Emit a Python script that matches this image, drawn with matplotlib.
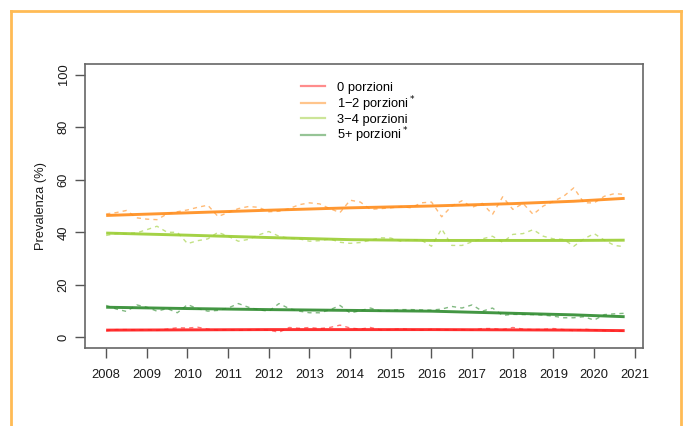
import numpy as np
import matplotlib
matplotlib.use('Agg')
import matplotlib.pyplot as plt
from matplotlib.lines import Line2D

plt.rcParams['font.family'] = ['Liberation Sans', 'DejaVu Sans']

# quarterly time points 2008 Q1 .. 2020 Q4
years = [2008 + q / 4 for q in range(52)]

# observed quarterly prevalence (dashed lines)
zero_obs = [2.5, 3.0, 3.0, 2.8, 3.0, 2.7, 3.2, 3.7, 3.6, 3.9, 3.2, 2.8, 3.0,
            2.7, 2.9, 3.0, 2.8, 2.0, 3.8, 3.5, 3.8, 3.4, 3.8, 4.7, 3.6, 3.2,
            3.8, 2.9, 3.0, 3.3, 3.0, 2.8, 3.1, 3.0, 2.9, 3.0, 2.8, 3.4, 3.4,
            3.0, 3.8, 3.2, 3.0, 3.1, 3.4, 3.0, 2.6, 3.2, 2.8, 2.6, 2.5, 2.5]
one_two_obs = [47.0, 47.5, 48.3, 45.5, 45.0, 44.8, 47.0, 47.8, 48.5, 49.5,
               50.3, 46.0, 47.5, 49.0, 49.8, 49.5, 47.8, 48.0, 49.0, 50.5,
               51.2, 50.8, 49.0, 47.5, 52.2, 51.5, 48.7, 49.0, 49.3, 49.8,
               49.3, 51.2, 51.5, 45.9, 50.0, 52.0, 49.5, 51.0, 46.8, 53.5,
               48.7, 51.0, 46.8, 50.0, 51.8, 53.7, 56.9, 51.2, 51.2, 53.7,
               54.7, 54.4]
three_four_obs = [38.8, 39.5, 39.5, 39.8, 41.0, 42.3, 40.0, 40.0, 35.7, 36.8,
                  37.5, 40.0, 38.5, 36.6, 37.3, 39.0, 40.3, 38.5, 37.7, 37.5,
                  36.6, 36.8, 37.5, 36.2, 35.8, 36.1, 37.0, 37.9, 37.8, 36.6,
                  37.2, 37.0, 34.7, 41.3, 35.0, 35.0, 36.4, 37.5, 38.5, 36.2,
                  39.2, 39.5, 41.0, 38.5, 37.5, 37.3, 34.7, 37.5, 39.5, 37.0,
                  35.0, 34.5]
five_obs = [12.2, 10.8, 9.9, 12.4, 11.5, 10.0, 11.0, 9.4, 12.5, 11.0, 10.0,
            10.3, 11.2, 12.9, 11.5, 10.5, 10.0, 12.9, 11.0, 10.0, 9.4, 9.4,
            10.5, 12.2, 9.3, 10.2, 11.2, 10.0, 10.3, 10.6, 10.6, 10.5, 10.4,
            10.8, 11.8, 11.2, 12.4, 10.0, 11.2, 8.4, 8.8, 8.7, 8.7, 8.5, 8.1,
            7.5, 7.5, 7.9, 6.6, 8.7, 9.0, 9.2]

# smoothed trend (solid lines), read at a few points
trend_years = [2008, 2010, 2012, 2014, 2016, 2018, 2019.5, 2020.75]
zero_trend = [2.8, 2.9, 3.0, 3.0, 3.0, 2.9, 2.8, 2.6]
one_two_trend = [46.4, 47.4, 48.4, 49.3, 50.0, 50.9, 51.8, 52.9]
three_four_trend = [39.7, 38.9, 38.0, 37.2, 36.9, 36.9, 36.9, 37.0]
five_trend = [11.5, 11.0, 10.6, 10.3, 10.0, 9.2, 8.6, 7.9]

labels = ['0 porzioni', '1\u22122 porzioni$^*$', '3\u22124 porzioni',
          '5+ porzioni$^*$']
colors = ['#FF1A1A', '#FF8C1A', '#9ACD32', '#2E8B2E']

obs = [zero_obs, one_two_obs, three_four_obs, five_obs]
trends = [zero_trend, one_two_trend, three_four_trend, five_trend]

fig = plt.figure(figsize=(6.84, 4.26), dpi=100)
ax = fig.add_axes([0.1243, 0.1831, 0.8157, 0.6667])

for o, t, c in zip(obs, trends, colors):
    ax.plot(years, o, color=c, lw=1.0, alpha=0.6, dashes=(3, 3))
    ax.plot(trend_years, t, color=c, lw=2.1, alpha=0.9,
            solid_capstyle='butt')

ax.set_xlim(2007.48, 2021.2)
ax.set_ylim(-4, 104)
ax.set_xticks(range(2008, 2022))
ax.set_yticks(range(0, 101, 20))
ax.tick_params(axis='y', labelrotation=90, length=7, width=1,
               color='#555555', labelsize=9.3, labelcolor='#1a1a1a', pad=4)
ax.tick_params(axis='x', length=7, width=1, color='#555555', labelsize=9.3,
               labelcolor='#1a1a1a', pad=8)
for lab in ax.get_yticklabels():
    lab.set_va('center')
for s in ax.spines.values():
    s.set_color('#666666')
    s.set_linewidth(1.2)
ax.set_ylabel('Prevalenza (%)', fontsize=9.3, color='#1a1a1a', labelpad=8)

handles = [Line2D([], [], color=c, lw=1.6, alpha=0.5) for c in colors]
ax.legend(handles, labels, loc='upper left', bbox_to_anchor=(0.378, 0.955),
          frameon=False, fontsize=9.3, handlelength=1.85, handletextpad=0.95,
          labelspacing=0.0, borderaxespad=0.0)

# orange frame around the slide (bottom edge cut off)
border = '#FFBB55'
fig.add_artist(Line2D([0.016, 0.016], [0, 0.974], color=border, lw=2,
                      transform=fig.transFigure))
fig.add_artist(Line2D([0.016, 0.9956], [0.974, 0.974], color=border, lw=2,
                      transform=fig.transFigure))
fig.add_artist(Line2D([0.9956, 0.9956], [0, 0.974], color=border, lw=2,
                      transform=fig.transFigure))

fig.savefig('out.png', dpi=100, facecolor='white')
